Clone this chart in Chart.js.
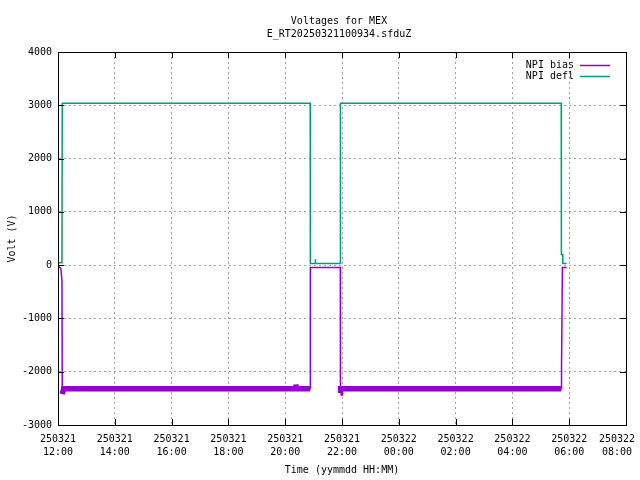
<!DOCTYPE html>
<html>
<head>
<meta charset="utf-8">
<script src="https://cdn.jsdelivr.net/npm/chart.js@4/dist/chart.umd.min.js"></script>
<style>
  html, body { margin: 0; padding: 0; background: #fff; }
  canvas { display: block; }
</style>
</head>
<body>
<canvas id="chart" width="640" height="480"></canvas>
<script>
// hours since 250321 12:00
const biasTimes  = [0, 0.10, 0.14, 0.15, 0.20, 8.37, 8.38, 8.39, 8.88, 8.885, 9.94, 9.945, 9.95, 10.0, 17.72, 17.73, 17.76, 17.91];
const biasValues = [-10, -60, -300, -2420, -2320, -2320, -2240, -2320, -2320, -43, -43, -2400, -2320, -2320, -2320, -1900, -43, -43];

const deflTimes  = [0, 0.14, 0.15, 8.88, 8.885, 9.05, 9.06, 9.07, 9.94, 9.945, 17.72, 17.725, 17.77, 17.775, 17.91];
const deflValues = [45, 45, 3040, 3040, 32, 32, 110, 32, 32, 3040, 3040, 200, 200, 32, 32];

const seriesNames = ['NPI bias', 'NPI defl'];
const seriesColours = ['#9400d3', '#009e73'];

const xTicks = [0, 2, 4, 6, 8, 10, 12, 14, 16, 18, 20];
const yTicks = [-3000, -2000, -1000, 0, 1000, 2000, 3000, 4000];

const titleLines = ['Voltages for MEX', 'E_RT20250321100934.sfduZ'];
const FONT = 'DejaVu Sans Mono';

function toPoints(times, values) {
  return times.map((t, i) => ({ x: t, y: values[i] }));
}

function tickLabel(h) {
  const day = h < 12 ? '250321' : '250322';
  const hh = String((12 + h) % 24).padStart(2, '0');
  // last label is pushed left so it stays on the canvas, like gnuplot does
  const pad = h === xTicks[xTicks.length - 1] ? '   ' : '';
  return [day + pad, hh + ':00' + pad];
}

// gnuplot style frame: full box, inward tick marks, title and legend
const gnuplotFrame = {
  id: 'gnuplotFrame',
  afterDraw(chart) {
    const ctx = chart.ctx;
    const { left, right, top, bottom } = chart.chartArea;
    ctx.save();
    ctx.strokeStyle = '#000';
    ctx.lineWidth = 1;
    ctx.strokeRect(Math.round(left) + 0.5, Math.round(top) + 0.5,
                   Math.round(right - left), Math.round(bottom - top));
    ctx.beginPath();
    for (const v of xTicks) {
      const px = Math.round(chart.scales.x.getPixelForValue(v)) + 0.5;
      ctx.moveTo(px, bottom); ctx.lineTo(px, bottom - 6);
      ctx.moveTo(px, top); ctx.lineTo(px, top + 6);
    }
    for (const v of yTicks) {
      const py = Math.round(chart.scales.y.getPixelForValue(v)) + 0.5;
      ctx.moveTo(left, py); ctx.lineTo(left + 6, py);
      ctx.moveTo(right, py); ctx.lineTo(right - 6, py);
    }
    ctx.stroke();

    ctx.fillStyle = '#000';
    ctx.font = '10px "' + FONT + '"';
    ctx.textAlign = 'center';
    ctx.textBaseline = 'middle';
    titleLines.forEach((line, i) => ctx.fillText(line, 339, 21 + i * 13));

    ctx.textAlign = 'right';
    chart.data.datasets.forEach((ds, i) => {
      const y = 65 + i * 11;
      ctx.fillStyle = '#000';
      ctx.fillText(ds.label, 574, y);
      ctx.strokeStyle = ds.borderColor;
      ctx.lineWidth = 1.5;
      ctx.beginPath();
      ctx.moveTo(580, y + 0.5); ctx.lineTo(610, y + 0.5);
      ctx.stroke();
    });
    ctx.restore();
  }
};

new Chart(document.getElementById('chart'), {
  type: 'line',
  data: {
    datasets: [
      {
        label: seriesNames[0],
        data: toPoints(biasTimes, biasValues),
        borderColor: seriesColours[0],
        borderWidth: 1.5,
        pointRadius: 0,
        tension: 0,
        segment: {
          borderWidth: c => (c.p0.parsed.y < -2000 && c.p1.parsed.y < -2000) ? 5.5 : 1.5
        }
      },
      {
        label: seriesNames[1],
        data: toPoints(deflTimes, deflValues),
        borderColor: seriesColours[1],
        borderWidth: 1.5,
        pointRadius: 0,
        tension: 0
      }
    ]
  },
  options: {
    responsive: false,
    animation: false,
    devicePixelRatio: 1,
    layout: { padding: { top: 52, right: 14, left: 0, bottom: 0 } },
    plugins: {
      legend: { display: false },
      title: { display: false },
      tooltip: { enabled: false }
    },
    scales: {
      x: {
        type: 'linear',
        min: 0,
        max: 20,
        afterFit: s => { s.height = 55; s.paddingLeft = 0; s.paddingRight = 0; },
        afterBuildTicks: s => { s.ticks = xTicks.map(v => ({ value: v })); },
        ticks: {
          callback: v => tickLabel(v),
          color: '#000',
          font: { family: FONT, size: 10, lineHeight: 1.3 },
          padding: 8,
          maxRotation: 0,
          autoSkip: false
        },
        grid: { color: '#a0a0a0', drawTicks: false },
        border: { color: '#000', dash: [2, 3] },
        title: {
          display: true,
          text: 'Time (yymmdd HH:MM)',
          color: '#000',
          font: { family: FONT, size: 10, lineHeight: 1.2 },
          padding: { top: 0, bottom: 4 }
        }
      },
      y: {
        min: -3000,
        max: 4000,
        afterFit: s => { s.width = 58; s.paddingTop = 0; s.paddingBottom = 0; },
        afterBuildTicks: s => { s.ticks = yTicks.map(v => ({ value: v })); },
        ticks: {
          callback: v => String(v),
          color: '#000',
          font: { family: FONT, size: 10 },
          padding: 6
        },
        grid: { color: '#a0a0a0', drawTicks: false },
        border: { color: '#000', dash: [2, 3] },
        title: {
          display: true,
          text: 'Volt (V)',
          color: '#000',
          font: { family: FONT, size: 10, lineHeight: 1.2 },
          padding: { top: 6, bottom: 0 }
        }
      }
    }
  },
  plugins: [gnuplotFrame]
});
</script>
</body>
</html>
